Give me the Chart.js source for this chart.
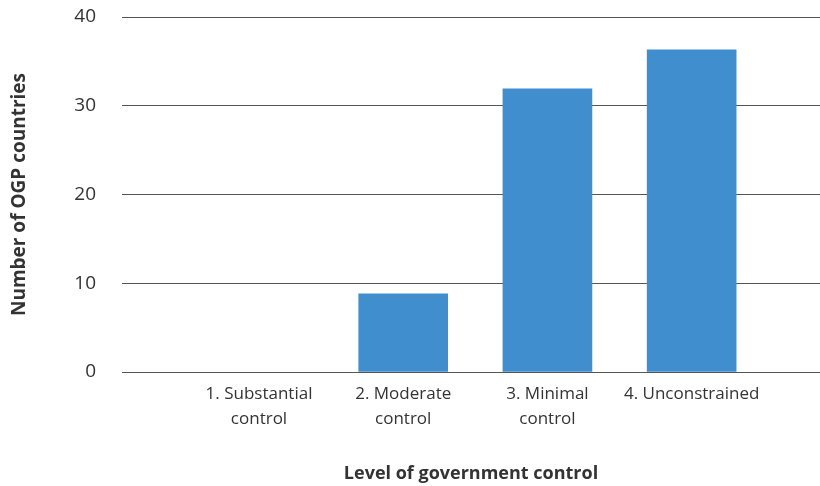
<!DOCTYPE html>
<html>
<head>
<meta charset="utf-8">
<script src="https://cdn.jsdelivr.net/npm/chart.js@4/dist/chart.umd.min.js"></script>
<style>
  html, body { margin: 0; padding: 0; background: #ffffff; }
  #wrap { width: 820px; height: 486px; position: relative; }
</style>
</head>
<body>
<div id="wrap"><canvas id="c" width="820" height="486"></canvas></div>
<script>
const categories = [
  ["1. Substantial", "control"],
  ["2. Moderate", "control"],
  ["3. Minimal", "control"],
  ["4. Unconstrained"]
];
const values = [0, 8.8, 31.9, 36.3];
const yTicks = [0, 10, 20, 30, 40];
const xTitle = "Level of government control";
const yTitle = "Number of OGP countries";

const FONT = "'Open Sans', Lato, sans-serif";
const TEXT = "#333333";
const BAR = '#408ecd';

new Chart(document.getElementById('c'), {
  type: 'bar',
  data: {
    datasets: [{
      data: values.map((v, i) => ({ x: i + 1, y: v })),
      backgroundColor: (ctx) => (ctx.raw && ctx.raw.y === 0) ? 'rgba(0,0,0,0)' : BAR,
      borderWidth: 0,
      barThickness: 89
    }]
  },
  options: {
    responsive: false,
    animation: false,
    devicePixelRatio: 1,
    layout: { autoPadding: false, padding: { top: 17, right: 0, bottom: 2, left: 6 } },
    plugins: { legend: { display: false }, tooltip: { enabled: false }, title: { display: false } },
    scales: {
      x: {
        type: 'linear',
        offset: false,
        min: 0.05,
        max: 4.89,
        afterBuildTicks: (axis) => { axis.ticks = categories.map((c, i) => ({ value: i + 1 })); },
        afterFit: (axis) => { axis.height = 112; axis.paddingLeft = 0; axis.paddingRight = 0; },
        grid: { display: false, drawTicks: false, offset: false },
        border: { display: false },
        ticks: {
          autoSkip: false,
          maxRotation: 0,
          padding: 10,
          color: TEXT,
          font: { family: FONT, size: 17, lineHeight: '25px' },
          callback: (v) => categories[v - 1] || ''
        },
        title: {
          display: true,
          text: xTitle,
          color: TEXT,
          font: { family: FONT, size: 18, weight: 'bold', lineHeight: '20px' },
          padding: { top: 24, bottom: 0 }
        }
      },
      y: {
        min: 0,
        max: 40,
        afterBuildTicks: (axis) => { axis.ticks = yTicks.map(v => ({ value: v })); },
        afterFit: (axis) => { axis.width = 116; axis.paddingTop = 0; axis.paddingBottom = 0; },
        grid: { color: '#555555', lineWidth: 1, drawTicks: false },
        border: { display: false },
        ticks: {
          padding: 26,
          color: TEXT,
          font: { family: FONT, size: 19 }
        },
        title: {
          display: true,
          text: yTitle,
          color: TEXT,
          font: { family: FONT, size: 19, weight: 'bold', lineHeight: '20px' },
          padding: { top: 4, bottom: 45 }
        }
      }
    }
  }
});
</script>
</body>
</html>
